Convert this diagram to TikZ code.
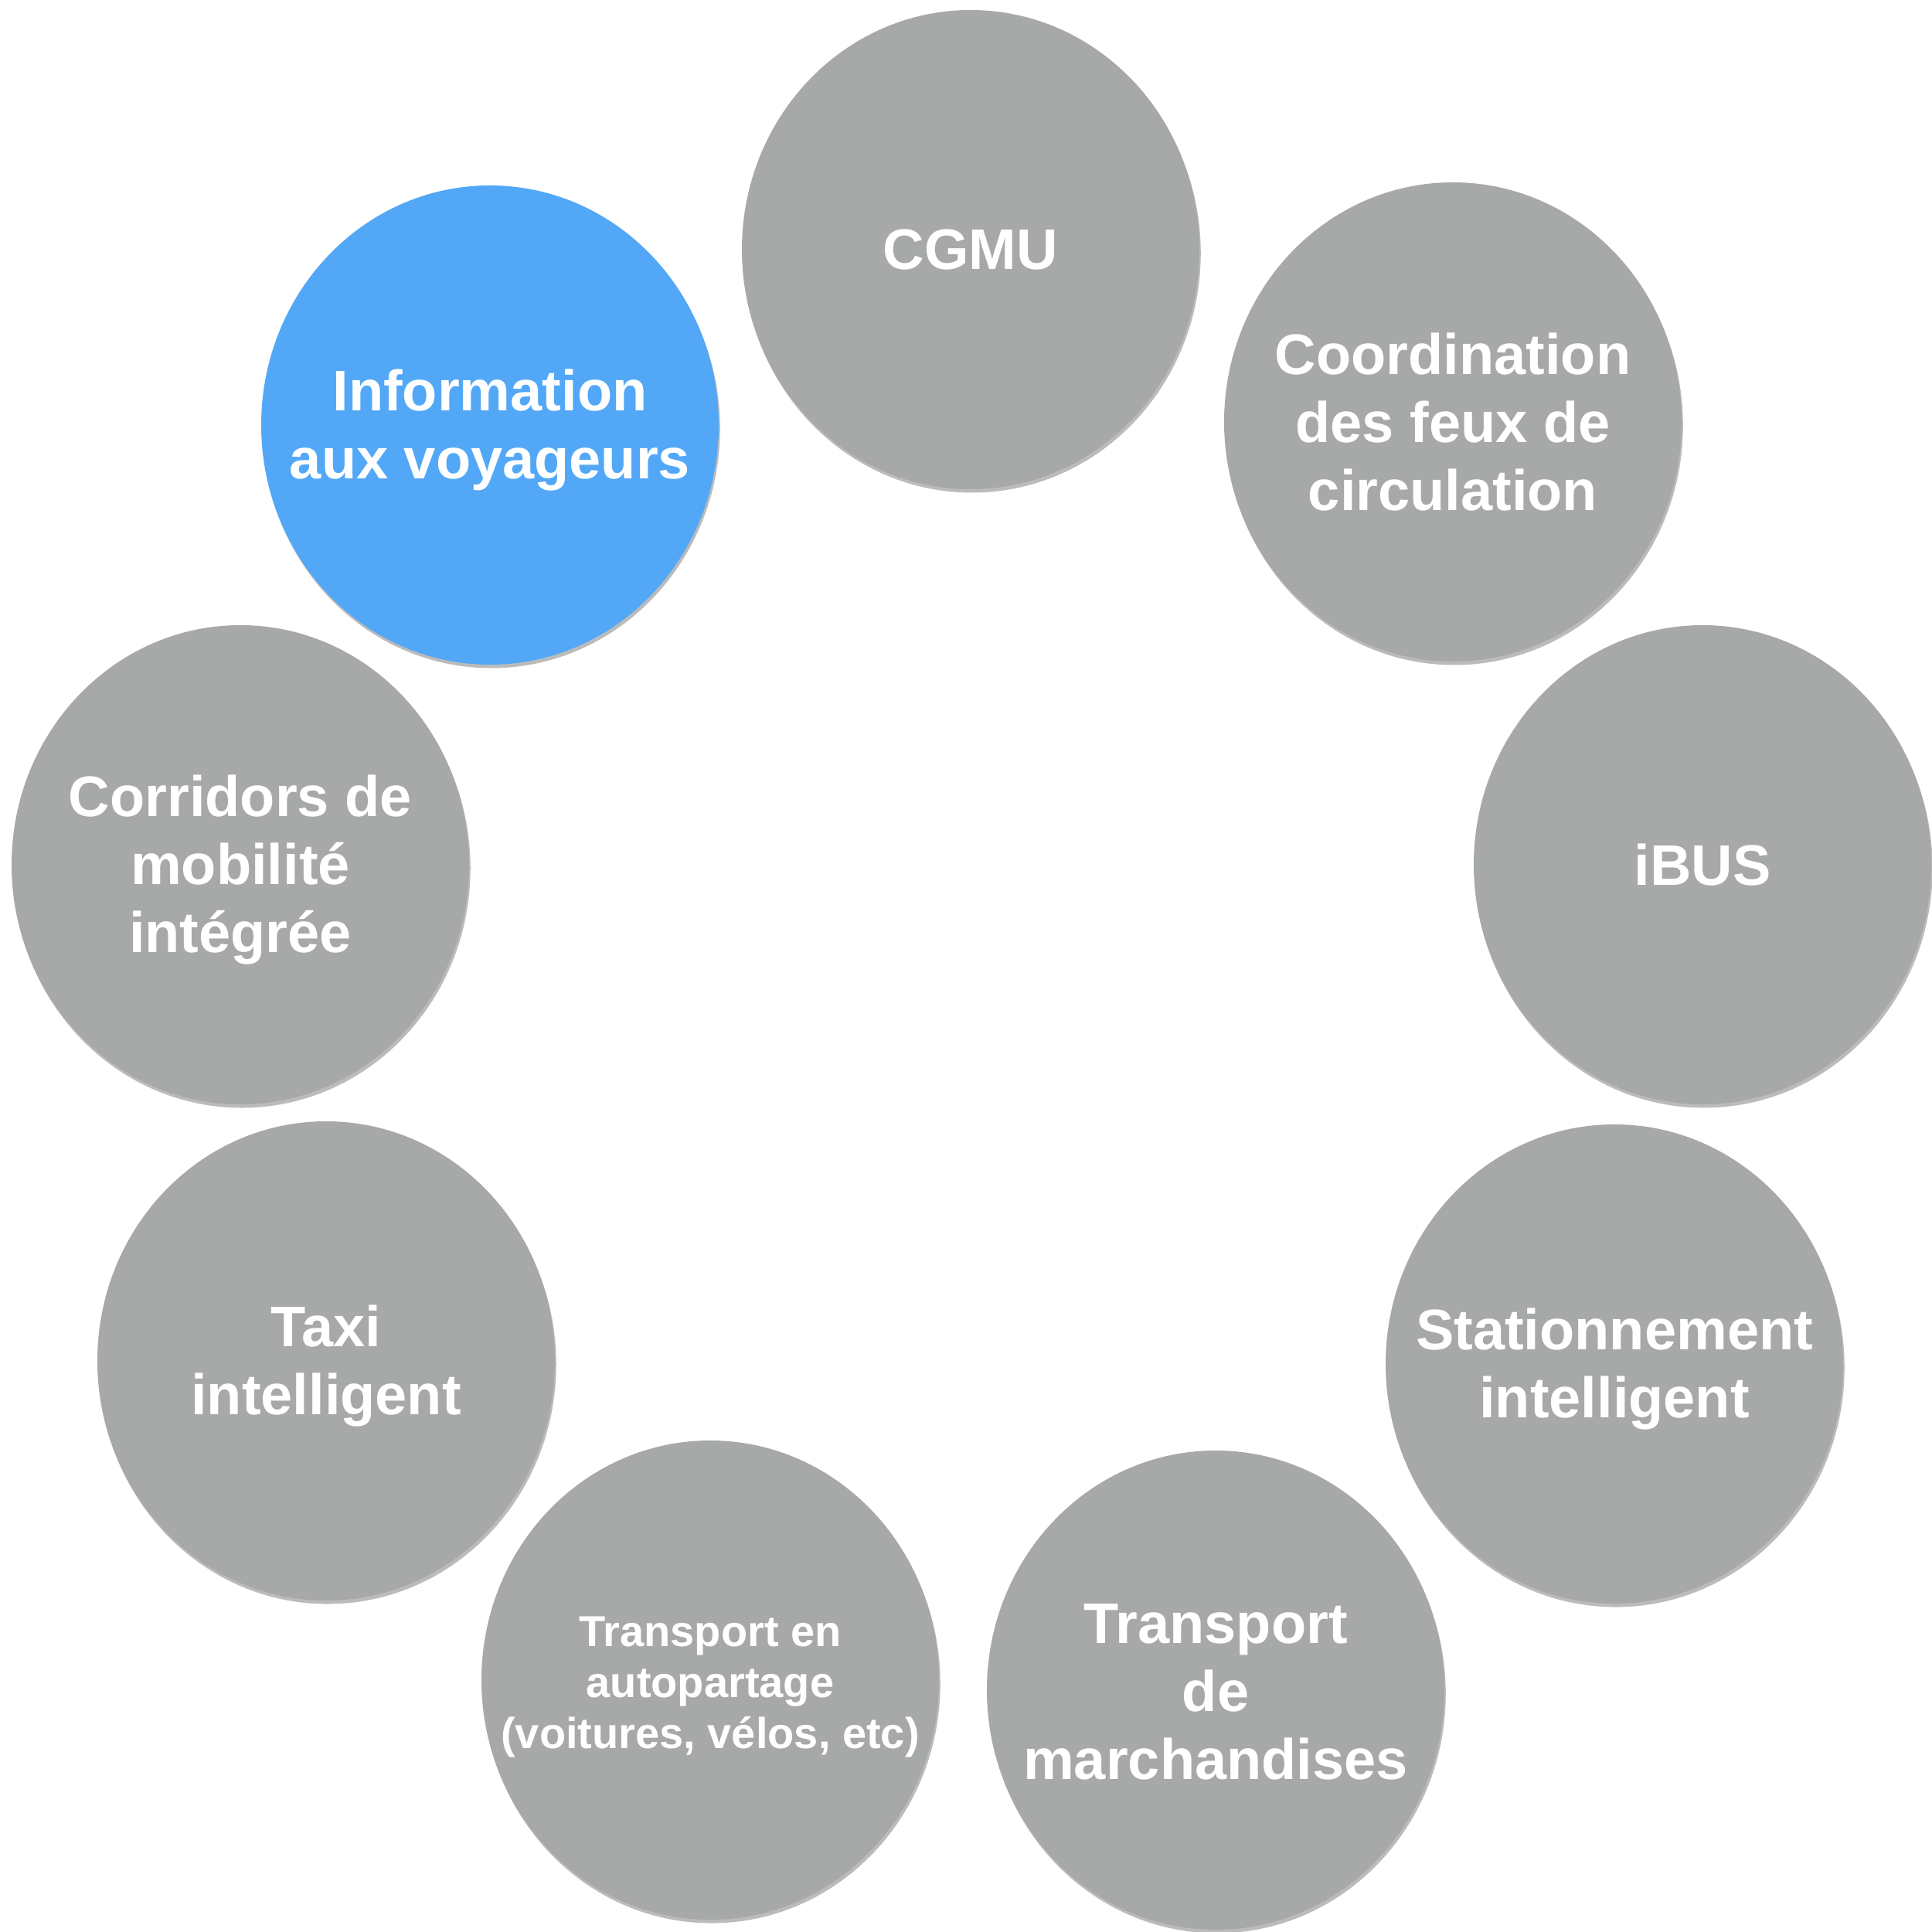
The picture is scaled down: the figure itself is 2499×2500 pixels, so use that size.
\documentclass[tikz,border=0pt]{standalone}
\usepackage{fontspec}
\setmainfont{Liberation Sans}
\usetikzlibrary{shapes.geometric,shadows}
\definecolor{bubblegray}{HTML}{A6A9A8}
\definecolor{bubbleblue}{HTML}{52A8F7}
\begin{document}
\begin{tikzpicture}[x=0.2pt,y=-0.2pt,
  bubble/.style={ellipse, minimum width=118.4pt, minimum height=124pt, inner sep=0pt,
    fill=bubblegray, draw=none,
    drop shadow={shadow xshift=0.35pt, shadow yshift=-0.9pt, fill=black!70, opacity=0.38}},
  bluebubble/.style={bubble, fill=bubbleblue},
  lbl/.style={text=white, align=center, inner sep=0pt,
    font=\bfseries\fontsize{14.8}{17.6}\selectfont},
  multilbl/.style={lbl, yshift=-1.3pt},
  smalllbl/.style={lbl, yshift=-1.8pt, font=\bfseries\fontsize{11.2}{13.2}\selectfont}]
\useasboundingbox (0,0) rectangle (2499,2500);
\node[bubble] (cgmu) at (1256,323) {};
\node[bubble] (coord) at (1880,546) {};
\node[bubble] (ibus) at (2203,1119) {};
\node[bubble] (station) at (2089,1765) {};
\node[bubble] (march) at (1573,2187) {};
\node[bubble] (auto) at (919,2174) {};
\node[bubble] (taxi) at (422,1761) {};
\node[bubble] (corr) at (311,1119) {};
\node[bluebubble] (info) at (634,550) {};
\node[lbl] (cgmuT) at (cgmu.center) {CGMU};
\node[lbl] (coordT) at (coord.center) {Coordination\\des feux de\\circulation};
\node[lbl] (ibusT) at (ibus.center) {iBUS};
\node[multilbl] (stationT) at (station.center) {Stationnement\\intelligent};
\node[multilbl, yshift=0.8pt] (marchT) at (march.center) {Transport\\de\\marchandises};
\node[smalllbl] (autoT) at (auto.center) {Transport en\\autopartage\\(voitures, vélos, etc)};
\node[multilbl] (taxiT) at (taxi.center) {Taxi\\intelligent};
\node[multilbl] (corrT) at (corr.center) {Corridors de\\mobilité\\intégrée};
\node[multilbl] (infoT) at (info.center) {Information\\aux voyageurs};
\end{tikzpicture}
\end{document}
